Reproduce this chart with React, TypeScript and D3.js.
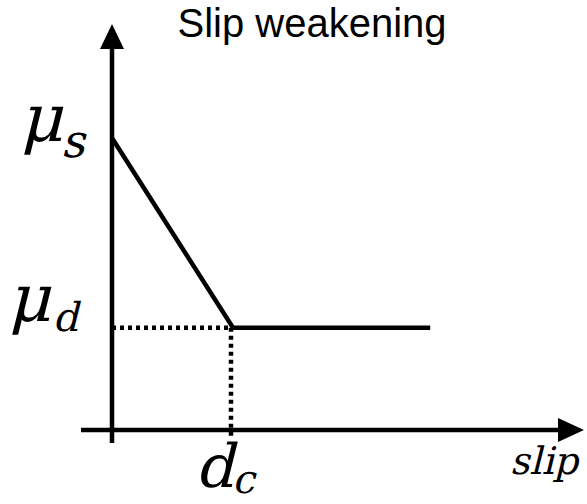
import React from "react";
import * as d3 from "d3";

const slipValues = [0, 1, 2.63];
const frictionValues = [0.6, 0.21, 0.21];
const titleText = "Slip weakening";

const W = 587;
const H = 504;
const SERIF = "'DejaVu Serif', 'Liberation Serif', 'Times New Roman', Times, serif";

function MathLabel(props: { x: number; y: number; main: string; sub?: string; size: number; subSize?: number; subDy?: number; subDx?: number }) {
  const { x, y, main, sub, size, subSize, subDy, subDx } = props;
  return (
    <g transform={`translate(${x},${y}) skewX(-14)`}>
      <text x={0} y={0} style={{ fontFamily: SERIF, fontStyle: "normal" }} fontSize={size} fill="#000">
        {main}
        {sub ? (
          <tspan fontSize={subSize} dy={subDy} dx={subDx ?? 2}>
            {sub}
          </tspan>
        ) : null}
      </text>
    </g>
  );
}

export default function App() {
  const x = d3.scaleLinear().domain([0, 3]).range([112, 475]);
  const y = d3.scaleLinear().domain([0, 0.6]).range([430, 138]);
  const pts: [number, number][] = slipValues.map((s, i) => [x(s), y(frictionValues[i])]);
  const line = d3.line<[number, number]>().x((d) => d[0]).y((d) => d[1]);
  const x0 = x(0);
  const y0 = y(0);
  const dcX = x(slipValues[1]);
  const mdY = y(frictionValues[1]);
  const msY = y(frictionValues[0]);

  return (
    <svg width={W} height={H} style={{ position: "absolute", left: 0, top: 0, background: "#fff" }}>
      <text x={312} y={37} textAnchor="middle" style={{ fontFamily: "'Liberation Sans', Arial, Helvetica, sans-serif" }} fontSize={40} fill="#000">
        {titleText}
      </text>
      <line x1={x0} x2={x0} y1={y0 + 13} y2={45} stroke="#000" strokeWidth={4.5} />
      <path d={`M${x0},24 L${x0 - 12},49 L${x0 + 12},49 Z`} fill="#000" />
      <line x1={81} x2={562} y1={y0} y2={y0} stroke="#000" strokeWidth={4.5} />
      <path d={`M584,${y0} L558,${y0 - 12} L558,${y0 + 12} Z`} fill="#000" />
      <line x1={x0} x2={dcX} y1={mdY} y2={mdY} stroke="#000" strokeWidth={4.5} strokeDasharray="4,4" />
      <line x1={dcX - 2} x2={dcX - 2} y1={mdY} y2={y0 + 8} stroke="#000" strokeWidth={4.5} strokeDasharray="4,4" />
      <path d={line(pts) || ""} fill="none" stroke="#000" strokeWidth={4.5} strokeLinejoin="miter" />
      <MathLabel x={20} y={msY + 3} main="μ" sub="s" size={66} subSize={46} subDy={16} subDx={2} />
      <MathLabel x={8} y={mdY - 7} main="μ" sub="d" size={66} subSize={40} subDy={10} subDx={4} />
      <MathLabel x={195} y={y0 + 57} main="d" sub="c" size={60} subSize={40} subDy={6} subDx={0} />
      <MathLabel x={510} y={y0 + 44} main="slip" size={38} />
    </svg>
  );
}
